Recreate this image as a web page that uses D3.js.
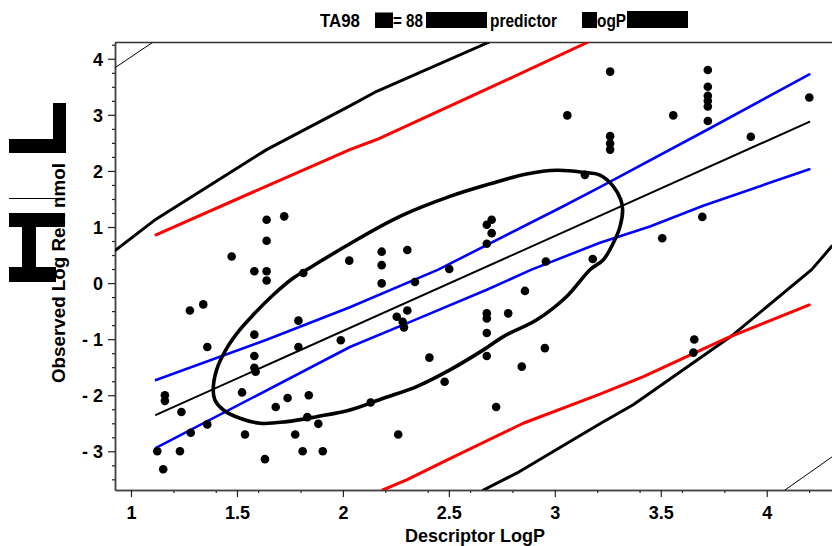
<!DOCTYPE html>
<html>
<head>
<meta charset="utf-8">
<script src="https://cdn.jsdelivr.net/npm/d3@7"></script>
<style>
  html, body { margin: 0; padding: 0; background: #fff; }
  svg { display: block; }
  text { font-family: "Liberation Sans", Arial, sans-serif; font-weight: bold; fill: #000; }
</style>
</head>
<body>
<svg id="chart" width="832" height="546"></svg>
<script>
// Observations: descriptor LogP vs observed log revertants
const logP = [
  1.124, 1.152, 1.160, 1.160, 1.231, 1.238, 1.278, 1.282, 1.341, 1.360, 1.360,
  1.475, 1.524, 1.538, 1.582, 1.582, 1.582, 1.588, 1.582, 1.632, 1.640, 1.640,
  1.640, 1.640, 1.683, 1.723, 1.739, 1.775, 1.790, 1.790, 1.810, 1.813, 1.832,
  1.839, 1.884, 1.905, 1.990, 2.030, 2.131, 2.183, 2.183, 2.183, 2.254, 2.261,
  2.282, 2.288, 2.304, 2.304, 2.340, 2.408, 2.480, 2.502, 2.679, 2.679, 2.679,
  2.679, 2.679, 2.702, 2.679, 2.702, 2.723, 2.780, 2.844, 2.859, 2.953, 2.958,
  3.059, 3.142, 3.179, 3.261, 3.261, 3.261, 3.261, 3.507, 3.559, 3.654, 3.658,
  3.696, 3.722, 3.722, 3.722, 3.722, 3.722, 3.722, 3.925, 4.201
];
const observed = [
  -3.00, -3.32, -2.00, -2.10, -3.00, -2.30, -0.49, -2.67, -0.38, -1.14, -2.52,
   0.475, -1.95, -2.70, -0.92, -1.30, -1.51, -1.58, 0.21, -3.14, 1.13, 0.755,
   0.21, 0.045, -2.21, 1.19, -2.05, -2.70, -0.67, -1.14, -3.00, 0.18, -2.39,
  -2.00, -2.51, -3.00, -1.02, 0.40, -2.13, 0.56, 0.32, -0.006, -0.60, -2.70,
  -0.69, -0.79, 0.59, -0.49, 0.018, -1.33, -1.76, 0.25, -0.54, -0.63, -0.89,
  -1.30, 1.04, 1.13, 0.70, 0.89, -2.21, -0.54, -1.49, -0.14, -1.16, 0.386,
   2.99, 1.93, 0.43, 3.77, 2.62, 2.49, 2.38, 0.80, 2.99, -1.24, -1.007,
   1.18, 3.80, 3.50, 3.34, 3.25, 3.15, 2.89, 2.61, 3.31
];

// Fitted regression line
const fitX = [1.118, 4.201];
const fitY = [-2.35, 2.875];

// Confidence band for the mean (blue)
const ciUpperX = [1.118, 1.640, 2.033, 2.450, 3.040, 3.213, 3.717, 4.201];
const ciUpperY = [-1.73, -1.01, -0.43, 0.24, 1.37, 1.71, 2.73, 3.72];
const ciLowerX = [1.118, 2.033, 2.332, 2.679, 2.890, 3.213, 3.449, 3.700, 4.201];
const ciLowerY = [-2.94, -1.14, -0.67, -0.12, 0.24, 0.72, 1.01, 1.38, 2.03];

// Prediction band (red)
const piUpperX = [1.118, 1.640, 2.033, 2.160, 2.663, 3.158];
const piUpperY = [0.86, 1.73, 2.38, 2.56, 3.43, 4.30];
const piLowerX = [2.188, 2.301, 2.505, 2.851, 3.213, 3.418, 3.811, 4.201];
const piLowerY = [-3.69, -3.51, -3.13, -2.50, -1.98, -1.67, -0.98, -0.39];

// Outer band (thick black)
const outerUpperX = [0.9245, 1.118, 1.640, 2.033, 2.160, 2.686];
const outerUpperY = [0.58, 1.14, 2.38, 3.16, 3.42, 4.29];
const outerLowerX = [2.663, 2.820, 3.213, 3.370, 3.842, 4.212, 4.308];
const outerLowerY = [-3.69, -3.39, -2.51, -2.17, -0.92, 0.24, 0.66];

// Widest band (thin black, visible only in the corners)
const wideUpperX = [0.9245, 1.105];
const wideUpperY = [3.84, 4.30];
const wideLowerX = [4.086, 4.308];
const wideLowerY = [-3.69, -3.10];

// Confidence ellipse outline
const ellipseX = [1.388, 1.404, 1.452, 1.514, 1.577, 1.672, 1.766, 1.860, 2.025,
  2.269, 2.505, 2.710, 2.867, 3.009, 3.135, 3.213, 3.276, 3.311, 3.320, 3.308,
  3.276, 3.229, 3.166, 3.056, 2.915, 2.757, 2.663, 2.505, 2.348, 2.191, 2.033,
  1.876, 1.735, 1.609, 1.514, 1.436, 1.396];
const ellipseY = [-1.905, -1.548, -1.161, -0.830, -0.566, -0.209, 0.089, 0.309, 0.684,
  1.189, 1.546, 1.786, 1.946, 2.011, 1.975, 1.925, 1.725, 1.488, 1.309, 1.011,
  0.714, 0.416, 0.238, -0.239, -0.655, -0.954, -1.191, -1.548, -1.846, -2.054, -2.263,
  -2.382, -2.471, -2.500, -2.411, -2.263, -2.084];

// Axis ticks
const xMajorTicks = [1, 1.5, 2, 2.5, 3, 3.5, 4];
const xMinorTicks = [1.2, 1.4, 1.6, 1.8, 2.2, 2.4, 2.6, 2.8, 3.2, 3.4, 3.6, 3.8, 4.2];
const yMajorTicks = [-3, -2, -1, 0, 1, 2, 3, 4];
const yMinorTicks = [-3.5, -3.25, -2.75, -2.5, -2.25, -1.75, -1.5, -1.25, -0.75, -0.5, -0.25,
  0.25, 0.5, 0.75, 1.25, 1.5, 1.75, 2.25, 2.5, 2.75, 3.25, 3.5, 3.75, 4.25];

const titleParts = ["TA98", "= 88", "predictor", "ogP"];
const xTitle = "Descriptor LogP";
const yTitle = "Observed Log Rev. nmol";

const svg = d3.select("#chart");
const plotLeft = 115, plotRight = 832, plotTop = 42.5, plotBottom = 490;

const x = d3.scaleLinear().domain([0.9245, 4.308]).range([plotLeft, plotRight]);
const y = d3.scaleLinear().domain([-3.69, 4.29]).range([plotBottom, plotTop]);

svg.append("defs").append("clipPath").attr("id", "plotClip")
  .append("rect").attr("x", plotLeft).attr("y", plotTop)
  .attr("width", plotRight - plotLeft).attr("height", plotBottom - plotTop);

// Frame: top border
svg.append("line").attr("x1", plotLeft).attr("x2", plotRight).attr("y1", plotTop).attr("y2", plotTop)
  .attr("stroke", "#333").attr("stroke-width", 1.5);

// Axes
const fmt = d => d < 0 ? "- " + Math.abs(d) : String(d);
const gx = svg.append("g").attr("transform", `translate(0,${plotBottom})`);
gx.call(d3.axisBottom(x).tickValues(xMinorTicks).tickSize(3).tickSizeOuter(0).tickFormat(""));
gx.call(g => g.append("g").call(d3.axisBottom(x).tickValues(xMajorTicks).tickSize(7).tickSizeOuter(0).tickFormat(fmt)));
const gy = svg.append("g").attr("transform", `translate(${plotLeft},0)`);
gy.call(d3.axisLeft(y).tickValues(yMinorTicks).tickSize(3).tickSizeOuter(0).tickFormat(""));
gy.call(g => g.append("g").call(d3.axisLeft(y).tickValues(yMajorTicks).tickSize(7).tickSizeOuter(0).tickFormat(fmt)));

svg.selectAll(".domain").attr("stroke", "#444").attr("stroke-width", 1.5);
svg.selectAll(".tick line").attr("stroke", "#222").attr("stroke-width", 1.2);
svg.selectAll(".tick text").style("font-size", "18px").style("font-weight", "bold")
  .style("font-family", '"Liberation Sans", Arial, sans-serif').attr("fill", "#000");
gx.selectAll(".tick text").attr("dy", null).attr("y", 29);
gy.selectAll(".tick text").attr("x", -12).attr("dy", "0.36em");

// Curves
const plot = svg.append("g").attr("clip-path", "url(#plotClip)");
const lineGen = d3.line().x(d => x(d[0])).y(d => y(d[1]));
const zipXY = (xs, ys) => xs.map((v, i) => [v, ys[i]]);

function drawLine(xs, ys, color, width) {
  plot.append("path").datum(zipXY(xs, ys)).attr("d", lineGen)
    .attr("fill", "none").attr("stroke", color).attr("stroke-width", width)
    .attr("stroke-linejoin", "round").attr("stroke-linecap", "round");
}
drawLine(wideUpperX, wideUpperY, "#000", 1);
drawLine(wideLowerX, wideLowerY, "#000", 1);
drawLine(outerUpperX, outerUpperY, "#000", 3);
drawLine(outerLowerX, outerLowerY, "#000", 3);
drawLine(piUpperX, piUpperY, "#ff0000", 3);
drawLine(piLowerX, piLowerY, "#ff0000", 3);
drawLine(ciUpperX, ciUpperY, "#0000ff", 2.6);
drawLine(ciLowerX, ciLowerY, "#0000ff", 2.6);
drawLine(fitX, fitY, "#000", 2);

// Ellipse
plot.append("path").datum(zipXY(ellipseX, ellipseY))
  .attr("d", d3.line().x(d => x(d[0])).y(d => y(d[1])).curve(d3.curveCatmullRomClosed))
  .attr("fill", "none").attr("stroke", "#000").attr("stroke-width", 3.6);

// Points
plot.selectAll("circle").data(zipXY(logP, observed)).join("circle")
  .attr("cx", d => x(d[0])).attr("cy", d => y(d[1])).attr("r", 4.3).attr("fill", "#000");

// Axis titles
svg.append("text").attr("x", 475).attr("y", 542).attr("text-anchor", "middle")
  .style("font-size", "18px").text(xTitle);
svg.append("text").attr("transform", "translate(65,383) rotate(-90)")
  .style("font-size", "18.8px").text(yTitle);

// Title (condensed bold)
const titleX = [320, 393, 490, 597];
const titleW = [40, 30, 67, 29];
titleParts.forEach((t, i) => {
  svg.append("text").attr("x", titleX[i]).attr("y", 27).style("font-size", "18.5px")
    .attr("textLength", titleW[i]).attr("lengthAdjust", "spacingAndGlyphs").text(t);
});

// Solid black blocks over parts of the labels
const blocks = [
  [375, 12.5, 18, 15.5], [426, 12, 61, 16], [582, 12, 15, 16], [627, 11, 61, 17],
  [53, 103, 13, 50], [9, 139, 57, 14],
  [9, 213, 56, 14], [22, 227, 14, 40], [9, 267, 47, 15]
];
svg.selectAll("rect.block").data(blocks).join("rect").attr("class", "block")
  .attr("x", d => d[0]).attr("y", d => d[1]).attr("width", d => d[2]).attr("height", d => d[3])
  .attr("fill", "#000");
svg.append("line").attr("x1", 9).attr("x2", 63).attr("y1", 198.5).attr("y2", 198.5)
  .attr("stroke", "#000").attr("stroke-width", 1);
</script>
</body>
</html>
